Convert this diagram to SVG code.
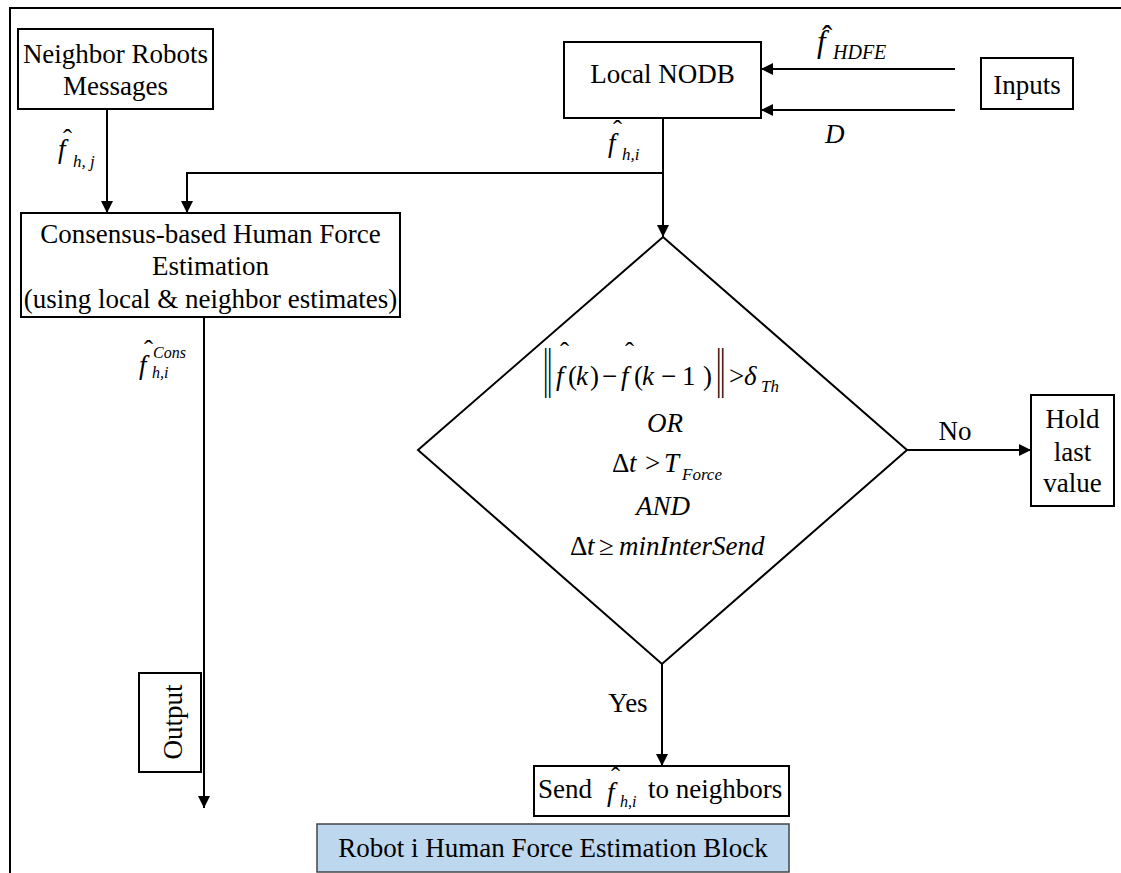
<svg xmlns="http://www.w3.org/2000/svg" width="1121" height="873" viewBox="0 0 1121 873">
<style>
text{font-family:'Liberation Serif','DejaVu Serif',serif;font-size:27px;fill:#000}
.i{font-style:italic}
.m{text-anchor:middle}
.s{font-size:17px}
.box{fill:#fff;stroke:#000;stroke-width:2}
.ln{fill:none;stroke:#000;stroke-width:2}
</style>
<defs>
<marker id="ah" markerUnits="userSpaceOnUse" markerWidth="12" markerHeight="12" refX="12" refY="6" orient="auto">
<path d="M0,0 L12,6 L0,12 z" fill="#000"/>
</marker>
</defs>
<rect width="1121" height="873" fill="#fff"/>
<g id="frame">
<path class="ln" d="M10,873 V8 H1121"/>
</g>
<g id="connectors">
<path class="ln" d="M107,109 V213" marker-end="url(#ah)"/>
<path class="ln" d="M663,118 V173 H187 V213" marker-end="url(#ah)"/>
<path class="ln" d="M663,173 V237" marker-end="url(#ah)"/>
<path class="ln" d="M955,69 H761" marker-end="url(#ah)"/>
<path class="ln" d="M955,110 H761" marker-end="url(#ah)"/>
<path class="ln" d="M204,317 V808" marker-end="url(#ah)"/>
<path class="ln" d="M907,450 H1031" marker-end="url(#ah)"/>
<path class="ln" d="M662,664 V766" marker-end="url(#ah)"/>
</g>
<g id="labels">
<text x="63" y="148">ˆ</text>
<text class="i" x="58" y="158">f</text>
<text class="i s" x="73" y="167">h, j</text>
<text x="613" y="139">ˆ</text>
<text class="i" x="608" y="152">f</text>
<text class="i s" x="622" y="160">h,i</text>
<text x="144" y="359">ˆ</text>
<text class="i" x="139" y="374">f</text>
<text class="i" style="font-size:16px" x="153" y="358">Cons</text>
<text class="i" style="font-size:16px" x="152" y="378">h,i</text>
<text style="font-size:31px" x="822" y="47">ˆ</text>
<text class="i" style="font-size:31px" x="817" y="52">f</text>
<text class="i" style="font-size:20px" x="833" y="59">HDFE</text>
<text class="i" x="825" y="143">D</text>
<text class="m" x="955" y="440">No</text>
<text class="m" x="628" y="712">Yes</text>
</g>
<g id="neighbor">
<rect class="box" x="18" y="29" width="195" height="80"/>
<text class="m" x="115.5" y="63">Neighbor Robots</text>
<text class="m" x="115.5" y="95">Messages</text>
</g>
<g id="nodb">
<rect class="box" x="564" y="42" width="197" height="76"/>
<text class="m" x="662.5" y="83">Local NODB</text>
</g>
<g id="inputs">
<rect class="box" x="981" y="58" width="92" height="51"/>
<text class="m" x="1027" y="94">Inputs</text>
</g>
<g id="consensus">
<rect class="box" x="21" y="213" width="379" height="104"/>
<text class="m" x="210.5" y="243">Consensus-based Human Force</text>
<text class="m" x="210.5" y="275">Estimation</text>
<text class="m" x="210.5" y="308">(using local &amp; neighbor estimates)</text>
</g>
<g id="decision">
<path class="box" d="M663,237 L907,450 L662,664 L418,450 Z"/>
<text transform="translate(543,386) scale(1,2)" letter-spacing="-1.5">||</text>
<text x="560" y="361">ˆ</text>
<text class="i" x="556" y="385">f</text>
<text x="568" y="385">(</text>
<text class="i" x="576" y="385">k</text>
<text x="590" y="385">)</text>
<text x="602" y="385">−</text>
<text x="625" y="361">ˆ</text>
<text class="i" x="621" y="385">f</text>
<text x="634" y="385">(</text>
<text class="i" x="642" y="385">k</text>
<text x="661" y="385">−</text>
<text x="682" y="385">1</text>
<text x="703" y="385">)</text>
<text transform="translate(716,386) scale(1,2)" letter-spacing="-1.5">||</text>
<text x="729" y="385">&gt;</text>
<text class="i" x="744" y="385">δ</text>
<text class="i s" x="761" y="392">Th</text>
<text class="i m" x="665" y="432">OR</text>
<text x="612" y="472">Δ</text>
<text class="i" x="629" y="472">t</text>
<text x="645" y="472">&gt;</text>
<text class="i" x="664" y="472">T</text>
<text class="i s" x="682" y="480">Force</text>
<text class="i m" x="663" y="515">AND</text>
<text x="570" y="555">Δ</text>
<text class="i" x="587" y="555">t</text>
<text x="599" y="555">≥</text>
<text class="i" x="619" y="555">minInterSend</text>
</g>
<g id="hold">
<rect class="box" x="1031" y="395" width="83" height="111"/>
<text class="m" x="1072.5" y="428">Hold</text>
<text class="m" x="1072.5" y="461">last</text>
<text class="m" x="1072.5" y="492">value</text>
</g>
<g id="output">
<rect class="box" x="139" y="673" width="62" height="99"/>
<text class="m" transform="translate(182,722) rotate(-90)">Output</text>
</g>
<g id="send">
<rect class="box" x="534" y="766" width="255" height="50"/>
<text x="538" y="798">Send</text>
<text x="611" y="786">ˆ</text>
<text class="i" x="607" y="801">f</text>
<text class="i" style="font-size:16px" x="620" y="807">h,i</text>
<text x="648" y="798">to neighbors</text>
</g>
<g id="title">
<rect x="317" y="824" width="472" height="48" fill="#bdd7ee" stroke="#444" stroke-width="1.5"/>
<text class="m" x="553" y="857">Robot i Human Force Estimation Block</text>
</g>
</svg>
